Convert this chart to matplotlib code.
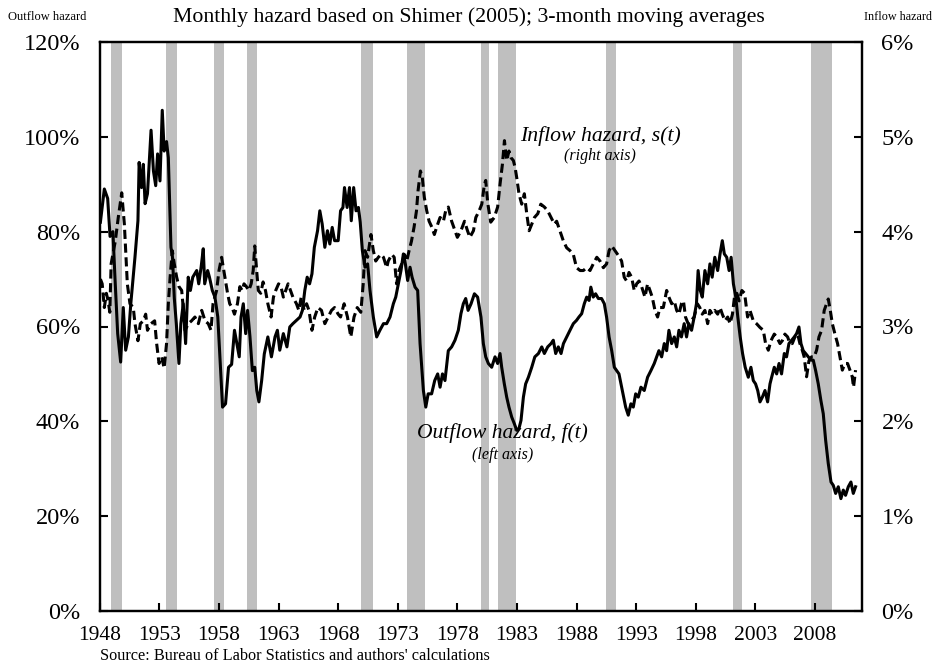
import matplotlib
matplotlib.use("Agg")
import matplotlib.pyplot as plt
from matplotlib.ticker import FuncFormatter

# outflow hazard f(t), percent, left axis
f_years = [
    1948.05, 1948.38, 1948.66, 1948.86, 1949.1, 1949.27, 1949.5, 1949.75, 1949.97, 1950.17,
    1950.4, 1950.6, 1950.95, 1951.2, 1951.3, 1951.5, 1951.65, 1951.8, 1952.0, 1952.3,
    1952.5, 1952.69, 1952.85, 1953.05, 1953.24, 1953.4, 1953.6, 1953.75, 1953.97, 1954.1,
    1954.25, 1954.42, 1954.64, 1954.8, 1955.0, 1955.2, 1955.42, 1955.6, 1955.8, 1956.13,
    1956.3, 1956.5, 1956.68, 1956.8, 1957.05, 1957.2, 1957.44, 1957.66, 1957.9, 1958.08,
    1958.3, 1958.55, 1958.8, 1959.06, 1959.3, 1959.5, 1959.7, 1959.85, 1960.04, 1960.24,
    1960.4, 1960.6, 1960.8, 1961.0, 1961.17, 1961.35, 1961.58, 1961.8, 1962.1, 1962.4,
    1962.7, 1962.9, 1963.1, 1963.4, 1963.7, 1963.94, 1964.2, 1964.5, 1964.8, 1965.0,
    1965.2, 1965.4, 1965.6, 1965.8, 1966.0, 1966.27, 1966.46, 1966.66, 1966.88, 1967.1,
    1967.3, 1967.5, 1967.7, 1968.0, 1968.2, 1968.4, 1968.53, 1968.75, 1968.95, 1969.1,
    1969.3, 1969.5, 1969.7, 1969.85, 1970.03, 1970.25, 1970.47, 1970.67, 1970.95, 1971.23,
    1971.5, 1971.8, 1972.07, 1972.35, 1972.63, 1972.83, 1973.05, 1973.27, 1973.47, 1973.6,
    1973.83, 1974.03, 1974.2, 1974.45, 1974.67, 1974.87, 1975.15, 1975.35, 1975.55, 1975.84,
    1976.1, 1976.35, 1976.55, 1976.75, 1976.96, 1977.24, 1977.52, 1977.8, 1978.08, 1978.3,
    1978.5, 1978.7, 1978.9, 1979.15, 1979.43, 1979.7, 1979.98, 1980.18, 1980.38, 1980.6,
    1980.88, 1981.16, 1981.38, 1981.58, 1981.72, 1981.94, 1982.14, 1982.33, 1982.56, 1982.78,
    1982.98, 1983.17, 1983.34, 1983.54, 1983.73, 1983.96, 1984.24, 1984.5, 1984.8, 1985.08,
    1985.3, 1985.58, 1985.86, 1986.05, 1986.25, 1986.47, 1986.7, 1986.9, 1987.17, 1987.45,
    1987.73, 1988.0, 1988.2, 1988.43, 1988.65, 1988.85, 1989.05, 1989.2, 1989.4, 1989.6,
    1989.83, 1990.1, 1990.33, 1990.52, 1990.73, 1990.95, 1991.17, 1991.37, 1991.56, 1991.8,
    1992.12, 1992.34, 1992.56, 1992.76, 1992.96, 1993.18, 1993.4, 1993.68, 1993.96, 1994.24,
    1994.52, 1994.72, 1994.91, 1995.14, 1995.36, 1995.56, 1995.75, 1995.98, 1996.2, 1996.4,
    1996.59, 1996.8, 1997.03, 1997.23, 1997.42, 1997.65, 1997.87, 1998.06, 1998.2, 1998.38,
    1998.55, 1998.77, 1999.0, 1999.19, 1999.38, 1999.6, 1999.84, 2000.04, 2000.23, 2000.4,
    2000.6, 2000.8, 2000.97, 2001.16, 2001.36, 2001.53, 2001.73, 2001.93, 2002.15, 2002.41,
    2002.63, 2002.83, 2003.02, 2003.2, 2003.39, 2003.59, 2003.81, 2004.03, 2004.23, 2004.37,
    2004.59, 2004.79, 2004.99, 2005.2, 2005.43, 2005.62, 2005.82, 2006.04, 2006.27, 2006.46,
    2006.66, 2006.83, 2007.02, 2007.22, 2007.44, 2007.67, 2007.86, 2008.06, 2008.28, 2008.5,
    2008.7, 2008.9, 2009.12, 2009.35, 2009.54, 2009.74, 2009.96, 2010.18, 2010.38, 2010.57,
    2010.8, 2011.02, 2011.22, 2011.41,
]
f_vals = [
    82, 89, 87, 79, 80, 70.4, 58.5, 52.5, 64, 55,
    57.8, 64.8, 74.6, 82.3, 94.6, 89.3, 94.2, 85.9, 88, 101.4,
    92.8, 89.7, 96.4, 90.7, 105.6, 97, 99, 95.6, 76.7, 74.6,
    66, 60.6, 52.2, 60.6, 64.8, 56.4, 70.4, 67.6, 70.4, 71.8,
    69, 72.5, 76.4, 69, 71.8, 70.4, 67.6, 66.2, 62, 53.5,
    43, 43.7, 51.4, 52, 59.2, 56.4, 53.6, 62, 64.8, 58.5,
    63.4, 57.8, 50.7, 51.4, 46.5, 44.1, 48.6, 54.2, 57.8, 53.6,
    57.8, 59.2, 55, 58.5, 55.7, 59.9, 60.6, 61.3, 62, 63.4,
    67.6, 70.4, 69, 71.1, 76.7, 80.2, 84.4, 81.6, 76.7, 80.2,
    77.4, 80.9, 78.1, 78.1, 84.4, 85.1, 89.3, 85.1, 89.3, 82.3,
    89.3, 84.4, 85.1, 82, 76, 72.5, 73.2, 67.6, 62, 57.8,
    59.2, 60.6, 60.6, 62, 64.8, 66.2, 69, 71.8, 75.3, 73.9,
    69.7, 72.5, 70.4, 68.3, 67.6, 56.4, 46.5, 43, 45.8, 45.8,
    48.6, 50, 47.2, 50, 48.6, 54.9, 55.7, 57.1, 59.2, 62.7,
    64.8, 65.9, 63.4, 64.8, 66.9, 66.2, 62, 56.4, 53.6, 52.2,
    51.4, 53.6, 52.2, 54.3, 51.4, 47.9, 45.1, 43, 40.9, 39.5,
    38.1, 38.5, 40.2, 45.1, 47.9, 49.3, 51.4, 53.6, 54.3, 55.7,
    54.3, 55.7, 56.4, 57.1, 54.3, 55.7, 54.3, 56.4, 57.8, 59.2,
    60.6, 61.3, 62, 62.7, 64.8, 66.2, 65.5, 68.3, 66.2, 66.9,
    65.9, 65.9, 64.8, 62, 57.8, 54.9, 51.4, 50.7, 50, 47,
    43, 41.3, 43.7, 43, 45.8, 45.1, 47.2, 46.5, 49.3, 50.7,
    52.2, 53.6, 54.9, 53.6, 56.4, 54.9, 59.2, 56.4, 57.8, 55.7,
    59.2, 57.8, 60.6, 57.8, 60.6, 59.2, 62, 64.8, 71.8, 67.6,
    66.2, 71.8, 69, 73.2, 70.4, 74.6, 71.8, 75.3, 78.1, 75.3,
    74.6, 71.8, 74.6, 69, 66.2, 62, 57.8, 54.3, 51.4, 49.3,
    51.4, 48.6, 47.9, 46.5, 44.1, 45.1, 46.5, 44.1, 47.9, 49.3,
    51.4, 50, 52.2, 50, 54.3, 53.6, 56.4, 57.1, 57.8, 58.5,
    59.9, 56.4, 54.9, 54.3, 53.6, 52.9, 52.9, 50.7, 47.9, 44.4,
    41.6, 36, 31.1, 27.2, 26.5, 24.8, 26.2, 23.7, 25.5, 24.4,
    26.2, 27.2, 24.8, 26.2,
]

# inflow hazard s(t), percent, right axis
s_years = [
    1948.05, 1948.2, 1948.38, 1948.55, 1948.7, 1948.84, 1948.95, 1949.3, 1949.55, 1949.84,
    1950.06, 1950.17, 1950.31, 1950.53, 1950.81, 1950.95, 1951.2, 1951.4, 1951.65, 1951.85,
    1952.0, 1952.3, 1952.6, 1952.77, 1952.97, 1953.19, 1953.4, 1953.6, 1953.75, 1953.9,
    1954.08, 1954.25, 1954.45, 1954.64, 1954.87, 1955.0, 1955.15, 1955.43, 1955.7, 1955.98,
    1956.27, 1956.55, 1956.83, 1957.1, 1957.33, 1957.5, 1957.8, 1958.0, 1958.22, 1958.5,
    1958.72, 1958.9, 1959.1, 1959.3, 1959.55, 1959.75, 1959.95, 1960.1, 1960.3, 1960.5,
    1960.7, 1960.87, 1961.0, 1961.16, 1961.3, 1961.5, 1961.7, 1961.9, 1962.1, 1962.37,
    1962.57, 1962.76, 1963.0, 1963.2, 1963.4, 1963.6, 1963.8, 1964.0, 1964.2, 1964.5,
    1964.7, 1964.9, 1965.15, 1965.35, 1965.55, 1965.8, 1966.03, 1966.3, 1966.6, 1966.88,
    1967.16, 1967.44, 1967.7, 1968.0, 1968.2, 1968.5, 1968.78, 1969.06, 1969.33, 1969.6,
    1969.9, 1970.1, 1970.25, 1970.47, 1970.75, 1970.95, 1971.15, 1971.37, 1971.6, 1971.8,
    1972.07, 1972.2, 1972.5, 1972.7, 1972.9, 1973.1, 1973.33, 1973.55, 1973.75, 1973.95,
    1974.15, 1974.37, 1974.57, 1974.7, 1974.9, 1975.06, 1975.23, 1975.43, 1975.63, 1975.85,
    1976.07, 1976.27, 1976.55, 1976.83, 1977.02, 1977.24, 1977.52, 1977.8, 1978.0, 1978.3,
    1978.6, 1978.85, 1979.05, 1979.35, 1979.55, 1979.83, 1980.05, 1980.27, 1980.38, 1980.55,
    1980.8, 1981.1, 1981.38, 1981.58, 1981.78, 1981.95, 1982.14, 1982.33, 1982.5, 1982.7,
    1982.84, 1982.98, 1983.17, 1983.4, 1983.62, 1983.82, 1984.02, 1984.24, 1984.47, 1984.75,
    1985.0, 1985.3, 1985.58, 1985.86, 1986.14, 1986.33, 1986.6, 1986.9, 1987.17, 1987.45,
    1987.73, 1988.0, 1988.3, 1988.57, 1988.85, 1989.13, 1989.4, 1989.7, 1989.97, 1990.25,
    1990.52, 1990.73, 1990.95, 1991.22, 1991.5, 1991.78, 1992.0, 1992.2, 1992.4, 1992.62,
    1992.84, 1993.04, 1993.24, 1993.46, 1993.74, 1993.96, 1994.16, 1994.35, 1994.58, 1994.8,
    1995.0, 1995.28, 1995.56, 1995.75, 1995.98, 1996.2, 1996.4, 1996.59, 1996.8, 1996.97,
    1997.14, 1997.36, 1997.6, 1997.87, 1998.14, 1998.34, 1998.55, 1998.77, 1999.0, 1999.19,
    1999.38, 1999.6, 1999.84, 2000.04, 2000.23, 2000.46, 2000.68, 2000.88, 2001.08, 2001.25,
    2001.45, 2001.64, 2001.87, 2002.1, 2002.35, 2002.55, 2002.83, 2003.1, 2003.39, 2003.67,
    2003.86, 2004.09, 2004.31, 2004.59, 2004.79, 2005.07, 2005.26, 2005.48, 2005.71, 2005.9,
    2006.1, 2006.32, 2006.55, 2006.74, 2006.94, 2007.1, 2007.3, 2007.5, 2007.72, 2007.94,
    2008.14, 2008.34, 2008.56, 2008.78, 2008.98, 2009.12, 2009.29, 2009.46, 2009.68, 2009.9,
    2010.1, 2010.3, 2010.52, 2010.74, 2010.94, 2011.13, 2011.24, 2011.41,
]
s_vals = [
    3.5, 3.45, 3.2, 3.35, 3.27, 3.15, 3.66, 3.9, 4.15, 4.41,
    4.08, 3.8, 3.45, 3.24, 3.2, 3.03, 2.85, 3.03, 3.06, 3.13,
    2.96, 3.03, 3.06, 2.82, 2.61, 2.68, 2.56, 2.82, 3.24, 3.52,
    3.8, 3.66, 3.52, 3.42, 3.38, 3.2, 2.96, 3.03, 3.06, 3.1,
    3.03, 3.17, 3.06, 3.03, 2.96, 3.24, 3.38, 3.59, 3.73, 3.52,
    3.35, 3.24, 3.2, 3.13, 3.24, 3.42, 3.38, 3.45, 3.42, 3.38,
    3.45, 3.59, 3.85, 3.59, 3.38, 3.35, 3.47, 3.38, 3.24, 3.1,
    3.31, 3.38, 3.45, 3.42, 3.31, 3.38, 3.45, 3.38, 3.31, 3.24,
    3.17, 3.31, 3.17, 3.24, 3.17, 2.96, 3.1, 3.2, 3.17, 3.03,
    3.1, 3.17, 3.2, 3.13, 3.1, 3.24, 3.1, 2.89, 3.1, 3.2,
    3.15, 3.45, 3.8, 3.73, 3.97, 3.8, 3.69, 3.73, 3.76, 3.73,
    3.62, 3.69, 3.76, 3.73, 3.45, 3.59, 3.66, 3.76, 3.69, 3.8,
    3.9, 4.05, 4.22, 4.43, 4.64, 4.57, 4.36, 4.22, 4.11, 4.05,
    3.97, 4.05, 4.15, 4.11, 4.22, 4.26, 4.11, 4.01, 3.94, 4.01,
    4.11, 4.01, 3.94, 4.01, 4.15, 4.22, 4.29, 4.5, 4.54, 4.3,
    4.1, 4.15, 4.26, 4.5, 4.71, 4.96, 4.75, 4.85, 4.78, 4.75,
    4.68, 4.57, 4.4, 4.29, 4.4, 4.19, 4.01, 4.08, 4.15, 4.19,
    4.29, 4.26, 4.22, 4.15, 4.08, 4.11, 4.01, 3.9, 3.83, 3.8,
    3.76, 3.62, 3.59, 3.59, 3.62, 3.59, 3.66, 3.73, 3.69, 3.62,
    3.66, 3.8, 3.85, 3.8, 3.75, 3.69, 3.52, 3.48, 3.57, 3.52,
    3.38, 3.45, 3.48, 3.42, 3.31, 3.45, 3.38, 3.31, 3.17, 3.1,
    3.2, 3.2, 3.38, 3.31, 3.24, 3.27, 3.17, 3.13, 3.24, 3.27,
    3.1, 3.03, 3.06, 3.1, 3.24, 3.2, 3.13, 3.17, 3.03, 3.17,
    3.13, 3.17, 3.13, 3.2, 3.13, 3.06, 3.1, 3.03, 3.13, 3.31,
    3.35, 3.27, 3.38, 3.35, 3.1, 3.17, 3.06, 3.03, 2.99, 2.96,
    2.82, 2.75, 2.85, 2.92, 2.89, 2.82, 2.85, 2.92, 2.89, 2.82,
    2.82, 2.89, 2.92, 2.82, 2.75, 2.68, 2.47, 2.64, 2.68, 2.68,
    2.75, 2.89, 2.96, 3.17, 3.24, 3.29, 3.17, 3.03, 2.92, 2.82,
    2.68, 2.54, 2.61, 2.61, 2.54, 2.47, 2.36, 2.54,
]

# recession shading (start, end) in decimal years
rec_start = [1948.9, 1953.55, 1957.6, 1960.35, 1969.9, 1973.8, 1980.0, 1981.45, 1990.5, 2001.15, 2007.7]
rec_end = [1949.9, 1954.45, 1958.4, 1961.15, 1970.9, 1975.25, 1980.65, 1982.9, 1991.35, 2001.85, 2009.45]

year_ticks = list(range(1948, 2009, 5))
left_ticks = [0, 20, 40, 60, 80, 100, 120]
right_ticks = [0, 1, 2, 3, 4, 5, 6]

plt.rcParams["font.family"] = ["Liberation Serif", "DejaVu Serif"]

W, H = 938, 665
fig = plt.figure(figsize=(W / 100, H / 100), dpi=100)
ax = fig.add_axes([99.8 / W, 54 / H, (862 - 99.8) / W, (611 - 42) / H])
ax2 = ax.twinx()

for a, b in zip(rec_start, rec_end):
    ax.axvspan(a, b, color="#bfbfbf", lw=0, zorder=0)

ax.plot(f_years, f_vals, color="black", lw=2.2, zorder=3)
ax2.plot(s_years, s_vals, color="black", lw=2.2, linestyle=(0, (3, 1.5)))

ax.set_xlim(1948, 2011.95)
ax.set_ylim(0, 120)
ax2.set_ylim(0, 6)
ax.set_xticks(year_ticks)
ax.set_yticks(left_ticks)
ax2.set_yticks(right_ticks)
ax.yaxis.set_major_formatter(FuncFormatter(lambda v, p: f"{v:.0f}%"))
ax2.yaxis.set_major_formatter(FuncFormatter(lambda v, p: f"{v:.0f}%"))

ax.tick_params(axis="y", direction="in", length=6, width=1.5, labelsize=17.5, pad=14)
ax.tick_params(axis="x", direction="in", length=6, width=1.5, labelsize=15.5, pad=11)
ax2.tick_params(axis="y", direction="in", length=6, width=1.5, labelsize=17.5, pad=14)
for a in (ax, ax2):
    for sp in a.spines.values():
        sp.set_linewidth(1.6)

ax.text(1990.0, 100.2, "Inflow hazard, s(t)", style="italic", fontsize=15.7,
        ha="center", va="center")
ax.text(1990.0, 96.0, "(right axis)", style="italic", fontsize=11.5,
        ha="center", va="center")
ax.text(1981.8, 37.5, "Outflow hazard, f(t)", style="italic", fontsize=15.5,
        ha="center", va="center")
ax.text(1981.8, 32.8, "(left axis)", style="italic", fontsize=11.5,
        ha="center", va="center")

fig.text(8 / W, 1 - 17 / H, "Outflow hazard", fontsize=9, ha="left", va="center")
fig.text(932 / W, 1 - 17 / H, "Inflow hazard", fontsize=8.7, ha="right", va="center")
fig.text(469 / W, 1 - 17 / H, "Monthly hazard based on Shimer (2005); 3-month moving averages",
         fontsize=15.7, ha="center", va="center")
fig.text(100 / W, 1 - 656 / H, "Source: Bureau of Labor Statistics and authors' calculations",
         fontsize=11.7, ha="left", va="center")

fig.savefig("out.png", dpi=100)
plt.close(fig)
